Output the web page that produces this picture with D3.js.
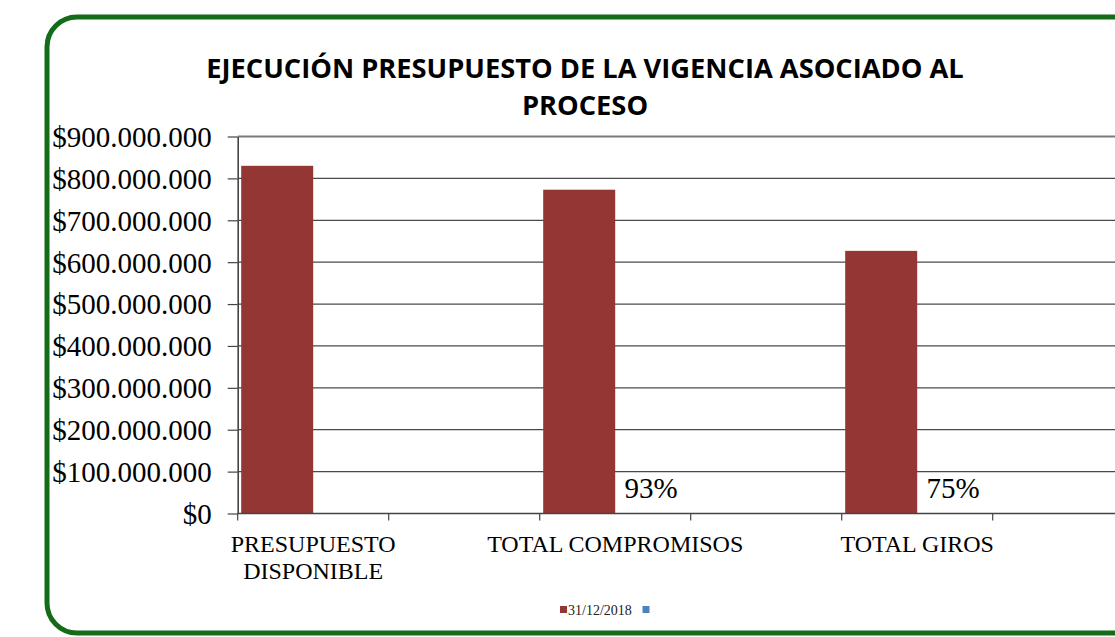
<!DOCTYPE html>
<html>
<head>
<meta charset="utf-8">
<script src="https://cdn.jsdelivr.net/npm/d3@7"></script>
<style>
  body { margin: 0; background: #fff; overflow: hidden; }
</style>
</head>
<body>
<div id="chart"></div>
<script>
// chart data (blank categories act as spacers, like the original sheet)
var categories = [["PRESUPUESTO", "DISPONIBLE"], [""], ["TOTAL COMPROMISOS"], [""], ["TOTAL GIROS"], [""]];
var budgetValues = [830000000, null, 773000000, null, 627000000, null];
var percentValues = [null, null, 0.93, null, 0.75, null];
var yTicks = [0, 100000000, 200000000, 300000000, 400000000, 500000000, 600000000, 700000000, 800000000, 900000000];
var seriesNames = ["31/12/2018", ""];
var titleLines = ["EJECUCIÓN PRESUPUESTO DE LA VIGENCIA ASOCIADO AL", "PROCESO"];

var W = 1115, H = 637;
var plotLeft = 237.7, plotTop = 136.5, plotBottom = 513.5, step = 151;
var serif = '"Liberation Serif", "Times New Roman", Times, serif';

var svg = d3.select('#chart')
  .append('svg')
  .attr('width', W)
  .attr('height', H);

// green rounded frame, cut off at the right edge like the screenshot
svg.append('rect')
  .attr('x', 47)
  .attr('y', 17)
  .attr('width', 1160)
  .attr('height', 616)
  .attr('rx', 30)
  .attr('fill', '#fff')
  .attr('stroke', '#146b18')
  .attr('stroke-width', 5);

// title
var title = svg.append('g');
titleLines.forEach(function(t, i) {
  title.append('text')
    .attr('x', 585)
    .attr('y', 78 + i * 37)
    .attr('text-anchor', 'middle')
    .style('font-family', '"Open Sans", sans-serif')
    .style('font-weight', 700)
    .style('font-size', '24px')
    .text(t);
});
// fit first line to the width of the original title
var firstLine = title.select('text').node();
var fs = 24 * 758 / firstLine.getComputedTextLength();
title.selectAll('text').style('font-size', fs + 'px');

var locale = d3.formatLocale({ decimal: ",", thousands: ".", grouping: [3], currency: ["$", ""] });
var money = locale.format("$,.0f");

var x0 = d3.scaleBand()
  .domain(d3.range(categories.length))
  .range([plotLeft, plotLeft + step * categories.length])
  .paddingInner(0)
  .paddingOuter(0);

var x1 = d3.scaleBand()
  .domain([0, 1])
  .range([0, x0.bandwidth()])
  .paddingInner(0)
  .paddingOuter(0.0486);

var y = d3.scaleLinear()
  .domain([0, 900000000])
  .range([plotBottom, plotTop]);

// gridlines
svg.append('g')
  .selectAll('line')
  .data(yTicks.filter(function(d) { return d > 0; }))
  .enter()
  .append('line')
  .attr('x1', plotLeft)
  .attr('x2', plotLeft + step * categories.length)
  .attr('y1', function(d) { return y(d); })
  .attr('y2', function(d) { return y(d); })
  .attr('stroke', function(d) { return d === 900000000 ? '#7a7a7a' : '#4a4a4a'; })
  .attr('stroke-width', function(d) { return d === 900000000 ? 1.8 : 1.2; });

// budget bars
svg.append('g')
  .selectAll('rect')
  .data(budgetValues.map(function(v, i) { return { i: i, v: v }; }).filter(function(d) { return d.v !== null; }))
  .enter()
  .append('rect')
  .attr('x', function(d) { return x0(d.i) + x1(0); })
  .attr('width', x1.bandwidth())
  .attr('y', function(d) { return y(d.v); })
  .attr('height', function(d) { return plotBottom - y(d.v); })
  .attr('fill', '#943634');

// percent series: values are tiny on this scale, only labels show
var pct = percentValues.map(function(v, i) { return { i: i, v: v }; }).filter(function(d) { return d.v !== null; });
svg.append('g')
  .selectAll('rect')
  .data(pct)
  .enter()
  .append('rect')
  .attr('x', function(d) { return x0(d.i) + x1(1); })
  .attr('width', x1.bandwidth())
  .attr('y', function(d) { return y(d.v); })
  .attr('height', function(d) { return plotBottom - y(d.v); })
  .attr('fill', '#4f81bd');
svg.append('g')
  .selectAll('text')
  .data(pct)
  .enter()
  .append('text')
  .attr('x', function(d) { return x0(d.i) + x1(1) + x1.bandwidth() / 2; })
  .attr('y', function(d) { return y(d.v) - 16; })
  .attr('text-anchor', 'middle')
  .style('font-family', serif)
  .style('font-size', '29px')
  .style('fill', '#000')
  .text(function(d) { return Math.round(d.v * 100) + '%'; });

// y axis
var yAxis = d3.axisLeft(y)
  .tickValues(yTicks)
  .tickFormat(money)
  .tickSize(10)
  .tickSizeOuter(0)
  .tickPadding(16);
var gy = svg.append('g')
  .attr('transform', 'translate(' + plotLeft + ',0)')
  .call(yAxis);
gy.select('.domain').attr('stroke', '#444').attr('stroke-width', 1.6);
gy.selectAll('.tick line').attr('stroke', '#444').attr('stroke-width', 1.2);
gy.selectAll('.tick text')
  .attr('dy', '0.34em')
  .style('font-family', serif)
  .style('font-size', '29px')
  .style('fill', '#000');

// x axis line with ticks between categories
svg.append('line')
  .attr('x1', plotLeft)
  .attr('x2', plotLeft + step * categories.length)
  .attr('y1', plotBottom)
  .attr('y2', plotBottom)
  .attr('stroke', '#444')
  .attr('stroke-width', 1.6);
svg.append('g')
  .selectAll('line')
  .data(d3.range(categories.length + 1))
  .enter()
  .append('line')
  .attr('x1', function(d) { return plotLeft + d * step; })
  .attr('x2', function(d) { return plotLeft + d * step; })
  .attr('y1', plotBottom)
  .attr('y2', plotBottom + 7)
  .attr('stroke', '#444')
  .attr('stroke-width', 1.2);

// category labels
var cat = svg.append('g')
  .selectAll('text')
  .data(categories)
  .enter()
  .append('text')
  .attr('text-anchor', 'middle')
  .attr('x', function(d, i) { return x0(i) + x0.bandwidth() / 2; })
  .attr('y', 552)
  .style('font-family', serif)
  .style('font-size', '24px')
  .style('fill', '#000');
cat.selectAll('tspan')
  .data(function(d) { return d; })
  .enter()
  .append('tspan')
  .attr('x', function() { return d3.select(this.parentNode).attr('x'); })
  .attr('dy', function(d, i) { return i === 0 ? 0 : 26.5; })
  .text(function(d) { return d; });

// legend
var legendColors = ['#943634', '#4f81bd'];
var lg = svg.append('g');
lg.append('rect').attr('x', 560).attr('y', 606).attr('width', 7).attr('height', 7).attr('fill', legendColors[0]);
lg.append('text')
  .attr('x', 568)
  .attr('y', 615)
  .style('font-family', serif)
  .style('font-size', '14px')
  .style('fill', '#222')
  .text(seriesNames[0]);
lg.append('rect').attr('x', 642.5).attr('y', 606).attr('width', 7).attr('height', 7).attr('fill', legendColors[1]);
</script>
</body>
</html>
